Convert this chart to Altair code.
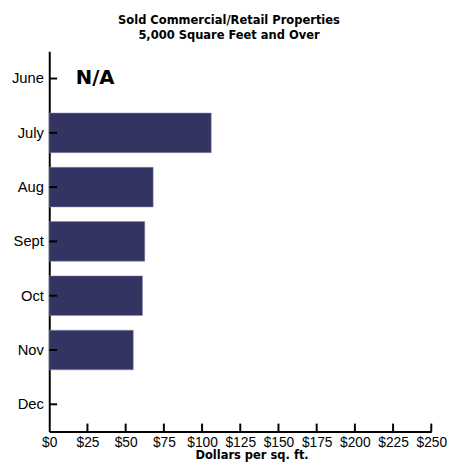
import altair as alt
import pandas as pd

months = ["June", "July", "Aug", "Sept", "Oct", "Nov", "Dec"]
values = [None, 106, 68, 62.5, 61, 55, None]
na_months = ["June"]
x_ticks = [0, 25, 50, 75, 100, 125, 150, 175, 200, 225, 250]

df = pd.DataFrame({"month": months, "value": values})
bars_df = df.dropna()
na_df = pd.DataFrame({"month": na_months, "label": ["N/A"] * len(na_months)})
xt_df = pd.DataFrame({"value": x_ticks[1:]})
yt_df = pd.DataFrame({"month": months})

COND = "DejaVu Sans Condensed, Liberation Sans, sans-serif"

yscale = alt.Scale(domain=months, paddingInner=0.27, paddingOuter=0.135)
xscale = alt.Scale(domain=[0, 250], nice=False)

x_axis = alt.Axis(values=x_ticks, labelExpr="'$' + datum.value", grid=False,
                  tickSize=0, domainWidth=2, domainColor="black",
                  labelFont="Liberation Sans", labelFontSize=14, labelColor="black",
                  labelPadding=4, labelFlush=False, labelOverlap=False,
                  title="Dollars per sq. ft.", titleFont=COND,
                  titleFontSize=13, titleFontWeight="bold", titleColor="black",
                  titleX=206, titleY=28, titleBaseline="alphabetic")
y_axis = alt.Axis(title=None, tickSize=0, domainWidth=2, domainColor="black",
                  labelFont="Liberation Sans", labelFontSize=15, labelColor="black",
                  labelPadding=6, grid=False)

bars = alt.Chart(bars_df).mark_bar(color="#343462", stroke="#8a8ab0", strokeWidth=0.5).encode(
    x=alt.X("value:Q", scale=xscale, axis=x_axis),
    y=alt.Y("month:N", scale=yscale, sort=months, axis=y_axis),
)

# tick marks along the bottom axis, drawn upward into the plot
xticks = alt.Chart(xt_df).mark_rule(color="black", strokeWidth=2).encode(
    x=alt.X("value:Q", scale=xscale, axis=x_axis),
    y=alt.value("height"),
    y2=alt.YValue(alt.ExprRef("height - 8")),
)

# tick marks along the left axis, drawn rightward into the plot
yticks = alt.Chart(yt_df).mark_rule(color="black", strokeWidth=2).encode(
    y=alt.Y("month:N", scale=yscale, sort=months, bandPosition=0.5, axis=y_axis),
    x=alt.value(0), x2=alt.value(8),
)

na_text = alt.Chart(na_df).mark_text(
    font="DejaVu Sans", fontWeight="bold", fontSize=20, align="left", baseline="middle",
    color="black"
).encode(
    y=alt.Y("month:N", scale=yscale, sort=months, bandPosition=0.5, axis=y_axis),
    x=alt.value(27),
    text="label:N",
)

chart = alt.layer(bars, xticks, yticks, na_text).properties(
    width=447, height=458,
    autosize=alt.AutoSizeParams(type="fit", contains="padding"),
    title=alt.TitleParams(
        text=["Sold Commercial/Retail Properties", "5,000 Square Feet and Over"],
        font=COND, fontSize=13, fontWeight="bold", color="black",
        anchor="middle", frame="bounds", lineHeight=15, offset=10,
    ),
    padding={"left": 3, "top": 2, "right": 0, "bottom": 0},
).configure_view(stroke=None)

chart.save("out.html", embed_options={"renderer": "svg", "actions": False})
